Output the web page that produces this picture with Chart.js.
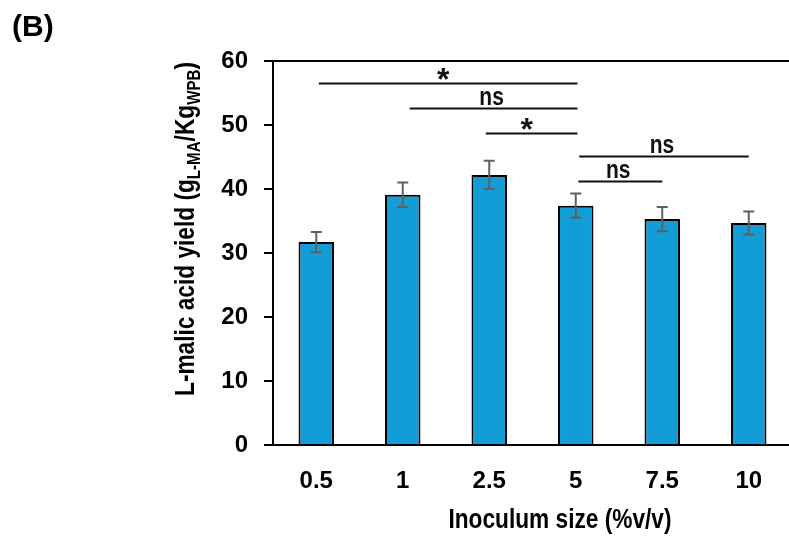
<!DOCTYPE html>
<html>
<head>
<meta charset="utf-8">
<script src="https://cdn.jsdelivr.net/npm/chart.js@4.4.1/dist/chart.umd.min.js"></script>
<style>
  html, body { margin: 0; padding: 0; background: #fff; overflow: hidden; }
  #wrap { width: 792px; height: 538px; position: relative; }
</style>
</head>
<body>
<div id="wrap"><canvas id="c"></canvas></div>
<script>
// ---- data ----
const categories = ['0.5', '1', '2.5', '5', '7.5', '10'];
const yieldValues = [31.7, 39.1, 42.2, 37.4, 35.3, 34.7];
const yieldErrors = [1.6, 1.9, 2.2, 1.9, 1.9, 1.8];
const yTickValues = [0, 10, 20, 30, 40, 50, 60];
// significance brackets: from/to category index, height (y value), label
const sigFrom   = [0.03, 1.08, 1.96, 3.04, 3.03];
const sigTo     = [3.02, 3.02, 3.02, 5.00, 4.00];
const sigLevel  = [56.6, 52.6, 48.7, 45.2, 41.2];
const sigLabels = ['*', 'ns', '*', 'ns', 'ns'];

const FONT = '"Liberation Sans", Arial, sans-serif';
const SQUEEZE = 0.84; // condensed look of the original lettering

function narrowText(ctx, text, x, y, size, align) {
  ctx.save();
  ctx.font = 'bold ' + size + 'px ' + FONT;
  ctx.translate(x, y);
  ctx.scale(SQUEEZE, 1);
  ctx.textAlign = align || 'center';
  ctx.fillText(text, 0, 0);
  ctx.restore();
}

const overlay = {
  id: 'overlay',
  afterDatasetsDraw(chart) {
    const ctx = chart.ctx;
    const xs = chart.scales.x, ys = chart.scales.y;
    const area = chart.chartArea;
    const meta = chart.getDatasetMeta(0);
    ctx.save();
    // error bars
    ctx.strokeStyle = '#606060';
    ctx.lineWidth = 2;
    meta.data.forEach((bar, i) => {
      const x = bar.x;
      const yt = ys.getPixelForValue(yieldValues[i] + yieldErrors[i]);
      const yb = ys.getPixelForValue(yieldValues[i] - yieldErrors[i]);
      ctx.beginPath();
      ctx.moveTo(x, yt); ctx.lineTo(x, yb);
      ctx.moveTo(x - 5.5, yt); ctx.lineTo(x + 5.5, yt);
      ctx.moveTo(x - 5.5, yb); ctx.lineTo(x + 5.5, yb);
      ctx.stroke();
    });
    // top frame line
    ctx.strokeStyle = '#000';
    ctx.lineWidth = 2;
    ctx.beginPath();
    ctx.moveTo(area.left - 1, area.top);
    ctx.lineTo(area.right + 5, area.top);
    ctx.stroke();
    // significance brackets
    ctx.lineWidth = 2;
    ctx.strokeStyle = '#111';
    ctx.fillStyle = '#111';
    ctx.textBaseline = 'alphabetic';
    sigLabels.forEach((lab, i) => {
      const x1 = xs.getPixelForValue(sigFrom[i]);
      const x2 = xs.getPixelForValue(sigTo[i]);
      const y = Math.round(ys.getPixelForValue(sigLevel[i])) + 0.5;
      ctx.beginPath();
      ctx.moveTo(x1, y); ctx.lineTo(x2, y);
      ctx.stroke();
      const xm = (x1 + x2) / 2;
      if (lab === '*') {
        ctx.font = 'bold 32px ' + FONT;
        ctx.textAlign = 'center';
        ctx.fillText(lab, xm - 5, y + 6);
      } else {
        narrowText(ctx, lab, xm - 2, y - 4, 25, 'center');
      }
    });
    ctx.restore();
  },
  afterDraw(chart) {
    const ctx = chart.ctx;
    ctx.save();
    ctx.fillStyle = '#000';
    ctx.textBaseline = 'alphabetic';
    // panel letter
    ctx.font = 'bold 30px ' + FONT;
    ctx.textAlign = 'left';
    ctx.fillText('(B)', 12, 36);
    // x title
    narrowText(ctx, 'Inoculum size (%v/v)', 560, 528, 27, 'center');
    // y title with subscripts, rotated
    const parts = [
      ['L-malic acid yield (g', 27, 0],
      ['L-MA', 18, 6],
      ['/Kg', 27, 0],
      ['WPB', 18, 6],
      [')', 27, 0]
    ];
    let total = 0;
    parts.forEach(p => { ctx.font = 'bold ' + p[1] + 'px ' + FONT; total += ctx.measureText(p[0]).width; });
    ctx.translate(194, 229);
    ctx.rotate(-Math.PI / 2);
    ctx.scale(SQUEEZE, 1);
    ctx.textAlign = 'left';
    let cx = -total / 2;
    parts.forEach(p => {
      ctx.font = 'bold ' + p[1] + 'px ' + FONT;
      ctx.fillText(p[0], cx, p[2]);
      cx += ctx.measureText(p[0]).width;
    });
    ctx.restore();
  }
};

new Chart(document.getElementById('c'), {
  type: 'bar',
  data: {
    labels: categories,
    datasets: [{
      data: yieldValues,
      backgroundColor: '#129DD6',
      borderColor: '#000',
      borderWidth: 2,
      borderSkipped: 'bottom',
      barPercentage: 0.41,
      categoryPercentage: 1.0
    }]
  },
  options: {
    responsive: true,
    maintainAspectRatio: false,
    animation: false,
    layout: { padding: { top: 61, left: 0, right: 0, bottom: 0 } },
    plugins: { legend: { display: false }, tooltip: { enabled: false }, title: { display: false } },
    scales: {
      x: {
        grid: { display: false, drawTicks: false },
        border: { display: true, color: '#000', width: 2 },
        ticks: { color: '#000', font: { family: FONT, size: 24, weight: 'bold' }, padding: 22 },
        afterFit(scale) { scale.height = 538 - 445; }
      },
      y: {
        min: 0, max: 60,
        afterBuildTicks(scale) { scale.ticks = yTickValues.map(v => ({ value: v })); },
        grid: { drawOnChartArea: false, drawTicks: true, tickLength: 9, color: '#000', lineWidth: 2 },
        border: { display: true, color: '#000', width: 2 },
        ticks: { color: '#000', font: { family: FONT, size: 24, weight: 'bold' }, padding: 16 },
        afterFit(scale) { scale.width = 273; }
      }
    }
  },
  plugins: [overlay]
});
</script>
</body>
</html>
